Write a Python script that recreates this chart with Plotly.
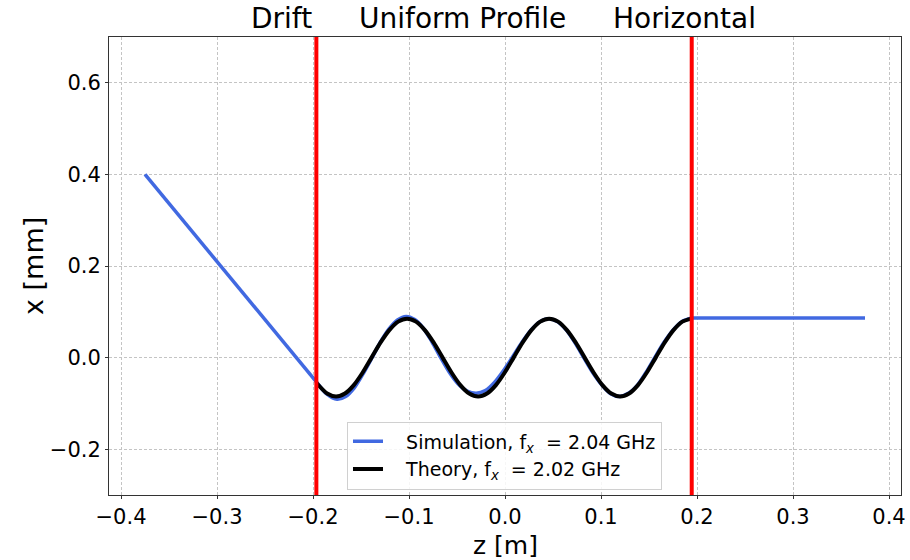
import plotly.graph_objects as go

# ---- data ----
drift_z = [-0.375, -0.1965]
drift_x = [0.400, -0.053]

sim_z = [-0.1965, -0.1855, -0.175, -0.166, -0.157, -0.148, -0.139, -0.130, -0.121,
         -0.112, -0.103, -0.094, -0.085, -0.076, -0.067, -0.058, -0.049, -0.0395,
         -0.030, -0.0205, -0.011, -0.0015, 0.008, 0.0175, 0.027, 0.036, 0.045,
         0.0545, 0.064, 0.073, 0.082, 0.0915, 0.101, 0.110, 0.119, 0.1285, 0.138,
         0.147, 0.156, 0.1655, 0.175, 0.1845, 0.1945]
sim_x = [-0.053, -0.080, -0.091, -0.085, -0.066, -0.036, -0.002, 0.033, 0.062,
         0.082, 0.090, 0.083, 0.064, 0.034, 0.000, -0.032, -0.057, -0.073,
         -0.078, -0.072, -0.054, -0.028, 0.002, 0.033, 0.060, 0.078, 0.085,
         0.079, 0.060, 0.032, 0.000, -0.033, -0.060, -0.079, -0.085, -0.078, -0.060,
         -0.032, 0.000, 0.033, 0.060, 0.079, 0.0865]

flat_z = [0.1945, 0.375]
flat_x = [0.0865, 0.0865]

theory_z = [-0.1965, -0.18525, -0.176, -0.16675, -0.1575, -0.14825, -0.139, -0.12975,
            -0.1205, -0.11125, -0.102, -0.09275, -0.0835, -0.07425, -0.065, -0.05575,
            -0.0465, -0.03725, -0.028, -0.01875, -0.0095, -0.00025, 0.009, 0.01825,
            0.0275, 0.03675, 0.046, 0.05525, 0.0645, 0.07375, 0.083, 0.09225, 0.1015,
            0.11075, 0.120, 0.12925, 0.1385, 0.14775, 0.157, 0.16625, 0.1755, 0.18475,
            0.1945]
theory_x = [-0.055, -0.0785, -0.085, -0.0785, -0.060, -0.0325, 0.000, 0.0325,
            0.060, 0.0785, 0.085, 0.0785, 0.060, 0.0325, 0.000, -0.0325,
            -0.060, -0.0785, -0.085, -0.0785, -0.060, -0.0325, 0.000, 0.0325,
            0.060, 0.0785, 0.085, 0.0785, 0.060, 0.0325, 0.000, -0.0325, -0.060,
            -0.0785, -0.085, -0.0785, -0.060, -0.0325, 0.000, 0.0325, 0.060, 0.0785,
            0.085]

boundaries = [-0.1965, 0.1945]
region_labels = ["Drift", "Uniform Profile", "Horizontal"]
region_label_z = [-0.2328, -0.0443, 0.1867]

x_ticks = [-0.4, -0.3, -0.2, -0.1, 0.0, 0.1, 0.2, 0.3, 0.4]
y_ticks = [-0.2, 0.0, 0.2, 0.4, 0.6]

x_title = "z [m]"
y_title = "x [mm]"

sim_name = "&nbsp;&nbsp;&nbsp;Simulation, f<sub><i>x</i></sub>&nbsp; = 2.04 GHz"
theory_name = "&nbsp;&nbsp;&nbsp;Theory, f<sub><i>x</i></sub>&nbsp; = 2.02 GHz"

BLUE = "#4169E1"
FONT = "DejaVu Sans"

fig = go.Figure()

fig.add_trace(go.Scatter(x=drift_z, y=drift_x, mode="lines",
                         line=dict(color=BLUE, width=3.5),
                         legendgroup="sim", showlegend=False, hoverinfo="skip"))
fig.add_trace(go.Scatter(x=sim_z, y=sim_x, mode="lines", name=sim_name,
                         line=dict(color=BLUE, width=3.5, shape="spline", smoothing=0.8),
                         legendgroup="sim"))
fig.add_trace(go.Scatter(x=flat_z, y=flat_x, mode="lines",
                         line=dict(color=BLUE, width=3.5),
                         legendgroup="sim", showlegend=False, hoverinfo="skip"))
fig.add_trace(go.Scatter(x=theory_z, y=theory_x, mode="lines", name=theory_name,
                         line=dict(color="black", width=4, shape="spline", smoothing=0.8)))

for b in boundaries:
    fig.add_shape(type="line", xref="x", yref="y domain", x0=b, x1=b, y0=0, y1=1,
                  line=dict(color="#FF0000", width=4), layer="above")

for txt, zx in zip(region_labels, region_label_z):
    fig.add_annotation(x=zx, xref="x", y=1, yref="y domain", yshift=0,
                       text=txt, showarrow=False, xanchor="center", yanchor="bottom",
                       font=dict(family=FONT, size=28, color="black"))

# axis titles
fig.add_annotation(x=0.5, xref="x domain", y=0, yref="y domain", yshift=-50,
                   text=x_title, showarrow=False, xanchor="center", yanchor="middle",
                   borderpad=0, font=dict(family=FONT, size=25, color="black"))
fig.add_annotation(x=0, xref="x domain", y=0.5, yref="y domain", xshift=-76,
                   text=y_title, showarrow=False, xanchor="center", yanchor="middle",
                   textangle=-90, font=dict(family=FONT, size=27, color="black"))

axis_common = dict(showgrid=True, gridcolor="#c4c4c4", griddash="3px,2px", gridwidth=1,
                   showline=True, linecolor="#333333", linewidth=1, mirror=True,
                   ticks="outside", ticklen=3, tickwidth=1, tickcolor="#333333",
                   zeroline=False, tickfont=dict(family=FONT, size=21, color="black"),
                   tickformat=".1f", automargin=False)

fig.update_xaxes(range=[-0.4125, 0.4125], tickvals=x_ticks, **axis_common)
fig.update_yaxes(range=[-0.3, 0.7], tickvals=y_ticks, **axis_common)

fig.update_layout(
    width=910, height=560,
    margin=dict(l=109, r=9, t=37, b=65),
    paper_bgcolor="white", plot_bgcolor="white",
    font=dict(family=FONT, color="black"),
    legend=dict(x=0.3005, y=0.012, xanchor="left", yanchor="bottom",
                bgcolor="rgba(255,255,255,0.85)", bordercolor="#d0d0d0", borderwidth=1,
                font=dict(family=FONT, size=19, color="black"),
                tracegroupgap=0),
    showlegend=True,
)

fig.write_html("out.html")
